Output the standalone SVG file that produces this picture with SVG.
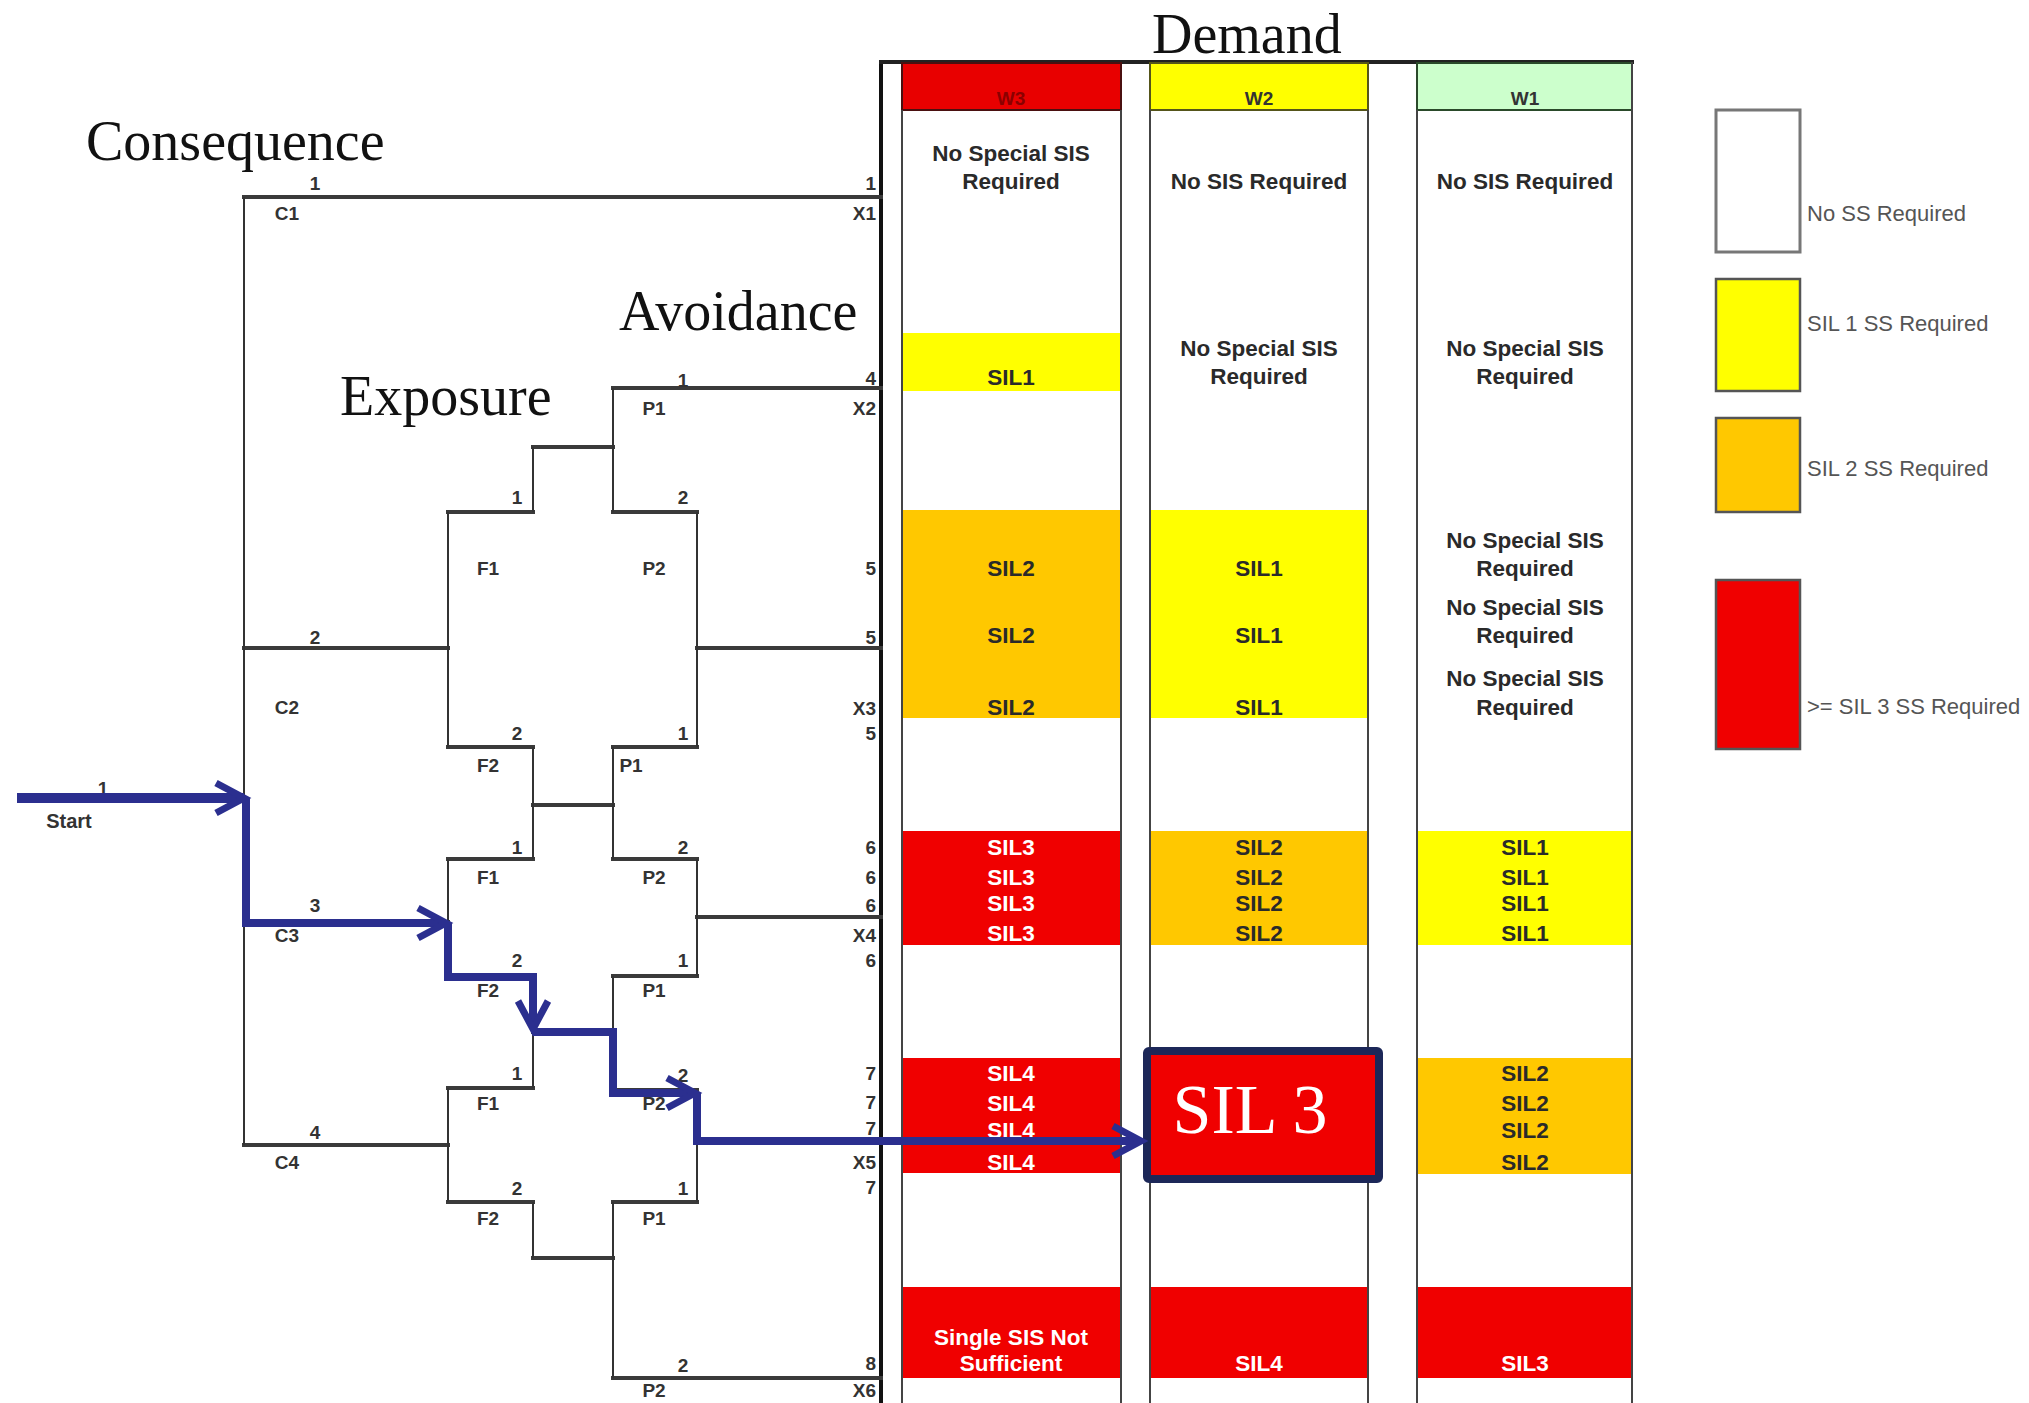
<svg xmlns="http://www.w3.org/2000/svg" width="2029" height="1403" viewBox="0 0 2029 1403">
<style>
.bg{fill:#ffffff}
.h{stroke:#3a3a3a;stroke-width:4;fill:none;stroke-linecap:square}
.v{stroke:#333;stroke-width:2;fill:none}
.lbl{font-family:"Liberation Sans",Arial,sans-serif;font-weight:bold;font-size:19px;fill:#333;text-anchor:middle}
.rl{font-family:"Liberation Sans",Arial,sans-serif;font-weight:bold;font-size:19px;fill:#333;text-anchor:end}
.title{font-family:"Liberation Serif","Times New Roman",serif;font-size:56px;fill:#111}
.cell{font-family:"Liberation Sans",Arial,sans-serif;font-weight:bold;font-size:22.5px;fill:#2a2a2a;text-anchor:middle}
.cw{font-family:"Liberation Sans",Arial,sans-serif;font-weight:bold;font-size:22.5px;fill:#ffffff;text-anchor:middle}
.hd{font-family:"Liberation Sans",Arial,sans-serif;font-weight:bold;font-size:19px;fill:#333;text-anchor:middle}
.col{stroke:#444;stroke-width:2;fill:none}
.leg{font-family:"Liberation Sans",Arial,sans-serif;font-size:22px;fill:#555}
.red{fill:#f00000}
.yel{fill:#ffff00}
.org{fill:#ffc800}
.blue{stroke:#2b2f8f;stroke-width:8;fill:none;stroke-linejoin:miter;marker-end:url(#chev)}
</style>
<defs>
<marker id="chev" markerUnits="userSpaceOnUse" markerWidth="40" markerHeight="40" refX="30" refY="17" orient="auto" viewBox="0 0 40 34">
<path d="M2,2 L30,17 L2,32" fill="none" stroke="#2b2f8f" stroke-width="7"/>
</marker>
</defs>
<rect class="bg" x="0" y="0" width="2029" height="1403"/>

<g id="titles">
<text class="title" x="86" y="160">Consequence</text>
<text class="title" x="619" y="330">Avoidance</text>
<text class="title" x="340" y="415">Exposure</text>
<text class="title" x="1152" y="53">Demand</text>
</g>

<g id="table">
<line x1="881" y1="62" x2="881" y2="1403" stroke="#111" stroke-width="4"/>
<line x1="879" y1="62" x2="1634" y2="62" stroke="#222" stroke-width="4"/>
<g id="col-w3">
<rect x="902" y="63" width="219" height="47" fill="#e80000" stroke="#4a1010" stroke-width="2"/>
<text class="hd" x="1011" y="105" style="fill:#8b0000">W3</text>
<rect class="yel" x="902" y="333" width="219" height="58"/>
<rect class="org" x="902" y="510" width="219" height="208"/>
<rect class="red" x="902" y="831" width="219" height="114"/>
<rect class="red" x="902" y="1058" width="219" height="115"/>
<rect class="red" x="902" y="1287" width="219" height="91"/>
<line class="col" x1="902" y1="110" x2="902" y2="1403"/>
<line class="col" x1="1121" y1="110" x2="1121" y2="1403"/>
<text class="cell" x="1011" y="161">No Special SIS</text>
<text class="cell" x="1011" y="189">Required</text>
<text class="cell" x="1011" y="385">SIL1</text>
<text class="cell" x="1011" y="576">SIL2</text>
<text class="cell" x="1011" y="643">SIL2</text>
<text class="cell" x="1011" y="715">SIL2</text>
<text class="cw" x="1011" y="855">SIL3</text>
<text class="cw" x="1011" y="885">SIL3</text>
<text class="cw" x="1011" y="911">SIL3</text>
<text class="cw" x="1011" y="941">SIL3</text>
<text class="cw" x="1011" y="1081">SIL4</text>
<text class="cw" x="1011" y="1111">SIL4</text>
<text class="cw" x="1011" y="1138">SIL4</text>
<text class="cw" x="1011" y="1170">SIL4</text>
<text class="cw" x="1011" y="1345">Single SIS Not</text>
<text class="cw" x="1011" y="1371">Sufficient</text>
</g>
<g id="col-w2">
<rect x="1150" y="63" width="218" height="47" fill="#ffff00" stroke="#55551a" stroke-width="2"/>
<text class="hd" x="1259" y="105">W2</text>
<rect class="yel" x="1150" y="510" width="218" height="208"/>
<rect class="org" x="1150" y="831" width="218" height="114"/>
<rect class="red" x="1150" y="1287" width="218" height="91"/>
<line class="col" x1="1150" y1="110" x2="1150" y2="1403"/>
<line class="col" x1="1368" y1="110" x2="1368" y2="1403"/>
<text class="cell" x="1259" y="189">No SIS Required</text>
<text class="cell" x="1259" y="356">No Special SIS</text>
<text class="cell" x="1259" y="384">Required</text>
<text class="cell" x="1259" y="576">SIL1</text>
<text class="cell" x="1259" y="643">SIL1</text>
<text class="cell" x="1259" y="715">SIL1</text>
<text class="cell" x="1259" y="855">SIL2</text>
<text class="cell" x="1259" y="885">SIL2</text>
<text class="cell" x="1259" y="911">SIL2</text>
<text class="cell" x="1259" y="941">SIL2</text>
<text class="cw" x="1259" y="1371">SIL4</text>
</g>
<g id="col-w1">
<rect x="1417" y="63" width="215" height="47" fill="#ccffcc" stroke="#2a4a2a" stroke-width="2"/>
<text class="hd" x="1525" y="105">W1</text>
<rect class="yel" x="1417" y="831" width="215" height="114"/>
<rect class="org" x="1417" y="1058" width="215" height="116"/>
<rect class="red" x="1417" y="1287" width="215" height="91"/>
<line class="col" x1="1417" y1="110" x2="1417" y2="1403"/>
<line class="col" x1="1632" y1="62" x2="1632" y2="1403"/>
<text class="cell" x="1525" y="189">No SIS Required</text>
<text class="cell" x="1525" y="356">No Special SIS</text>
<text class="cell" x="1525" y="384">Required</text>
<text class="cell" x="1525" y="548">No Special SIS</text>
<text class="cell" x="1525" y="576">Required</text>
<text class="cell" x="1525" y="615">No Special SIS</text>
<text class="cell" x="1525" y="643">Required</text>
<text class="cell" x="1525" y="686">No Special SIS</text>
<text class="cell" x="1525" y="715">Required</text>
<text class="cell" x="1525" y="855">SIL1</text>
<text class="cell" x="1525" y="885">SIL1</text>
<text class="cell" x="1525" y="911">SIL1</text>
<text class="cell" x="1525" y="941">SIL1</text>
<text class="cell" x="1525" y="1081">SIL2</text>
<text class="cell" x="1525" y="1111">SIL2</text>
<text class="cell" x="1525" y="1138">SIL2</text>
<text class="cell" x="1525" y="1170">SIL2</text>
<text class="cw" x="1525" y="1371">SIL3</text>
</g>
</g>

<g id="result-sil3">
<rect x="1147" y="1051" width="232" height="128" fill="#f00000" stroke="#1c2758" stroke-width="8" rx="2"/>
<text x="1250" y="1133" font-family="'Liberation Serif','Times New Roman',serif" font-size="70" fill="#ffffff" text-anchor="middle">SIL 3</text>
</g>

<g id="tree">
<g id="horizontals">
<path class="h" d="M244,197H881M613,388H881M533,447H613M448,512H533M613,512H697M244,648H448M697,648H881M448,747H533M613,747H697M533,805H613M448,859H533M613,859H697M697,917H881M244,922H448M448,977H533M613,976H697M533,1032H613M448,1088H533M613,1090H697M244,1145H448M697,1142H881M448,1202H533M613,1202H697M533,1258H613M613,1378H881"/>
</g>
<g id="verticals">
<path class="v" d="M244,197V1145M448,512V747M448,859V977M448,1088V1202M533,447V512M533,747V859M533,977V1088M533,1202V1258M613,388V512M613,747V859M613,976V1090M613,1202V1378M697,512V747M697,859V976M697,1090V1202"/>
</g>
<g id="node-C1">
<text class="lbl" x="315" y="190">1</text><text class="lbl" x="287" y="220">C1</text>
<text class="rl" x="876" y="190">1</text><text class="rl" x="876" y="220">X1</text>
</g>
<g id="node-C2">
<text class="lbl" x="315" y="644">2</text><text class="lbl" x="287" y="714">C2</text>
</g>
<g id="node-C3">
<text class="lbl" x="315" y="912">3</text><text class="lbl" x="287" y="942">C3</text>
</g>
<g id="node-C4">
<text class="lbl" x="315" y="1139">4</text><text class="lbl" x="287" y="1169">C4</text>
</g>
<g id="node-F">
<text class="lbl" x="517" y="504">1</text><text class="lbl" x="488" y="575">F1</text>
<text class="lbl" x="517" y="740">2</text><text class="lbl" x="488" y="772">F2</text>
<text class="lbl" x="517" y="854">1</text><text class="lbl" x="488" y="884">F1</text>
<text class="lbl" x="517" y="967">2</text><text class="lbl" x="488" y="997">F2</text>
<text class="lbl" x="517" y="1080">1</text><text class="lbl" x="488" y="1110">F1</text>
<text class="lbl" x="517" y="1195">2</text><text class="lbl" x="488" y="1225">F2</text>
</g>
<g id="node-P">
<text class="lbl" x="683" y="387">1</text><text class="lbl" x="654" y="415">P1</text>
<text class="lbl" x="683" y="504">2</text><text class="lbl" x="654" y="575">P2</text>
<text class="lbl" x="683" y="740">1</text><text class="lbl" x="631" y="772">P1</text>
<text class="lbl" x="683" y="854">2</text><text class="lbl" x="654" y="884">P2</text>
<text class="lbl" x="683" y="967">1</text><text class="lbl" x="654" y="997">P1</text>
<text class="lbl" x="683" y="1082">2</text><text class="lbl" x="654" y="1110">P2</text>
<text class="lbl" x="683" y="1195">1</text><text class="lbl" x="654" y="1225">P1</text>
<text class="lbl" x="683" y="1372">2</text><text class="lbl" x="654" y="1397">P2</text>
</g>
<g id="node-X">
<text class="rl" x="876" y="385">4</text><text class="rl" x="876" y="415">X2</text>
<text class="rl" x="876" y="575">5</text><text class="rl" x="876" y="644">5</text><text class="rl" x="876" y="715">X3</text><text class="rl" x="876" y="740">5</text>
<text class="rl" x="876" y="854">6</text><text class="rl" x="876" y="884">6</text><text class="rl" x="876" y="912">6</text><text class="rl" x="876" y="942">X4</text><text class="rl" x="876" y="967">6</text>
<text class="rl" x="876" y="1080">7</text><text class="rl" x="876" y="1109">7</text><text class="rl" x="876" y="1135">7</text><text class="rl" x="876" y="1169">X5</text><text class="rl" x="876" y="1194">7</text>
<text class="rl" x="876" y="1370">8</text><text class="rl" x="876" y="1397">X6</text>
</g>
<g id="node-start">
<text class="lbl" x="103" y="795">1</text>
<text class="lbl" x="69" y="828" style="font-size:20px">Start</text>
</g>
</g>

<g id="connectors">
<path class="blue" d="M17,798H244" style="stroke-width:10"/>
<path class="blue" d="M246,798V923H446"/>
<path class="blue" d="M448,923V977H533V1029"/>
<path class="blue" d="M533,1032H613V1093H695"/>
<path class="blue" d="M697,1093V1141H1141"/>
</g>

<g id="legend">
<g id="leg-none"><rect x="1716" y="110" width="84" height="142" fill="#ffffff" stroke="#777" stroke-width="3"/><text class="leg" x="1807" y="221">No SS Required</text></g>
<g id="leg-sil1"><rect x="1716" y="279" width="84" height="112" fill="#ffff00" stroke="#555" stroke-width="2.5"/><text class="leg" x="1807" y="331">SIL 1 SS Required</text></g>
<g id="leg-sil2"><rect x="1716" y="418" width="84" height="94" fill="#ffc800" stroke="#555" stroke-width="2.5"/><text class="leg" x="1807" y="476">SIL 2 SS Required</text></g>
<g id="leg-sil3"><rect x="1716" y="580" width="84" height="169" fill="#f00000" stroke="#555" stroke-width="2.5"/><text class="leg" x="1807" y="714">&gt;= SIL 3 SS Required</text></g>
</g>
</svg>
